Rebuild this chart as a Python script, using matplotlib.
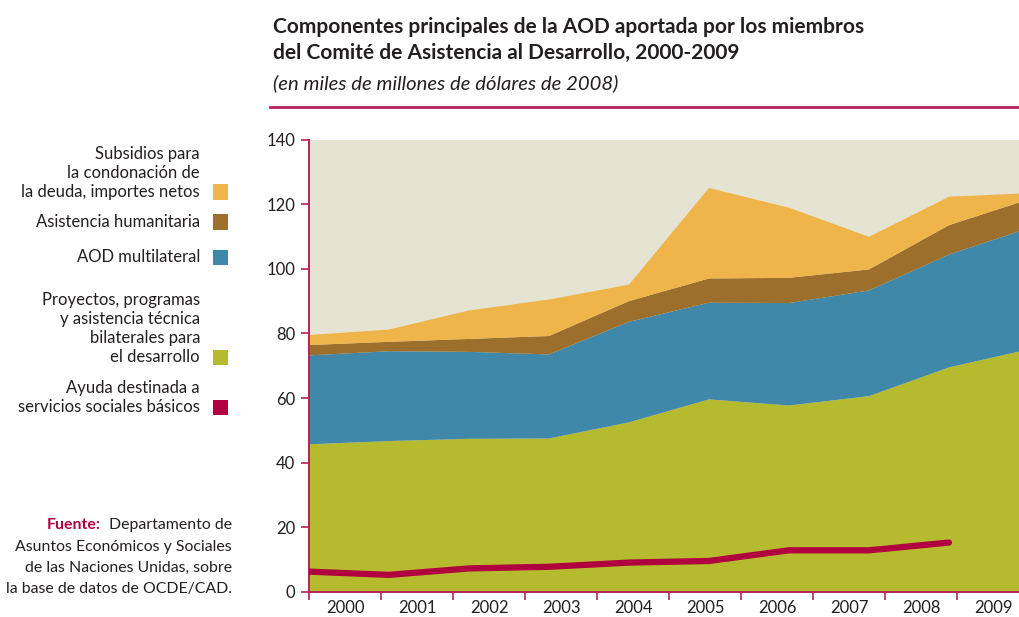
import matplotlib
matplotlib.use("Agg")
import matplotlib.pyplot as plt
import numpy as np
from matplotlib.patches import Rectangle

plt.rcParams['font.family'] = ['Lato', 'DejaVu Sans']

years = [2000, 2001, 2002, 2003, 2004, 2005, 2006, 2007, 2008, 2009]
bilateral = [45.7, 46.7, 47.4, 47.5, 52.5, 59.6, 57.7, 60.6, 69.5, 75.1]
multilateral = [27.5, 27.8, 26.9, 26.0, 31.1, 29.9, 31.7, 32.7, 34.9, 37.5]
humanitaria = [3.2, 2.9, 4.0, 5.7, 6.4, 7.5, 7.8, 6.5, 9.1, 8.9]
deuda = [3.1, 3.8, 8.8, 11.3, 5.1, 28.0, 21.7, 10.1, 8.8, 1.9]
social_years = [2000, 2001, 2002, 2003, 2004, 2005, 2006, 2007, 2008]
social = [6.3, 5.3, 7.3, 7.8, 9.1, 9.6, 12.9, 12.9, 15.3]
year_labels = [str(y) for y in years]

legend_labels = [
    "Subsidios para\nla condonación de\nla deuda, importes netos",
    "Asistencia humanitaria",
    "AOD multilateral",
    "Proyectos, programas\ny asistencia técnica\nbilaterales para\nel desarrollo",
    "Ayuda destinada a\nservicios sociales básicos",
]

c_yellow = '#EFB44A'
c_brown = '#9C702C'
c_blue = '#3F88AA'
c_green = '#B5BA2E'
c_red = '#B0003F'
c_bg = '#E5E4D3'
c_spine = '#B8205C'
c_text = '#231F20'

W, H = 1019, 617
fig = plt.figure(figsize=(W/100, H/100), dpi=100)

def fx(px):
    return px / W
def fy(py):
    return 1 - py / H

ax_l, ax_r, ax_t, ax_b = 309, 1019, 139.5, 592
ax = fig.add_axes([fx(ax_l), fy(ax_b), fx(ax_r - ax_l), (ax_b - ax_t) / H])
ax.set_facecolor(c_bg)

px_per_year = 80.0
ax.set_xlim(2000, 2000 + (ax_r - ax_l) / px_per_year)
ax.set_ylim(0, 140)

ax.stackplot(years, bilateral, multilateral, humanitaria, deuda,
             colors=[c_green, c_blue, c_brown, c_yellow], linewidth=0)
ax.plot(social_years, social, color=c_red, lw=4.5, solid_capstyle='round', zorder=5)

ax.set_yticks(np.arange(0, 141, 20))
ax.tick_params(axis='y', length=6, width=1.2, color=c_spine, labelsize=12,
               labelcolor=c_text, pad=4)
ax.set_xticks([])
for s in ['top', 'right']:
    ax.spines[s].set_visible(False)
for s in ['left', 'bottom']:
    ax.spines[s].set_color(c_spine)
    ax.spines[s].set_linewidth(1.4)

# category axis for year labels
ax2 = ax.twiny()
ax2.set_xlim(0, (ax_r - ax_l) / 72.0)
ax2.xaxis.set_ticks_position('bottom')
ax2.xaxis.set_label_position('bottom')
ax2.spines['bottom'].set_position(('axes', 0))
ax2.set_xticks(np.arange(0, 10))
ax2.set_xticklabels([])
ax2.set_xticks(np.arange(10) + 0.5, minor=True)
ax2.set_xticklabels(year_labels, minor=True)
ax2.tick_params(axis='x', which='major', length=6, width=1.2, color=c_spine, direction='out')
ax2.tick_params(axis='x', which='minor', length=0, labelsize=12, labelcolor=c_text, pad=6)
for s in ax2.spines.values():
    s.set_visible(False)

# Title
fig.text(fx(273), fy(27), "Componentes principales de la AOD aportada por los miembros",
         fontsize=15, fontweight='bold', color=c_text, va='center', ha='left')
fig.text(fx(273), fy(53), "del Comité de Asistencia al Desarrollo, 2000-2009",
         fontsize=15, fontweight='bold', color=c_text, va='center', ha='left')
fig.text(fx(273), fy(83), "(en miles de millones de dólares de 2008)",
         fontsize=14.6, fontstyle='italic', color=c_text, va='center', ha='left')
fig.add_artist(plt.Line2D([fx(270), 1.0], [fy(107), fy(107)], color=c_spine, lw=2.0))

# Legend
leg_colors = [c_yellow, c_brown, c_blue, c_green, c_red]
leg_y = [192, 222, 257, 357, 407]
for lab, col, yy in zip(legend_labels, leg_colors, leg_y):
    fig.text(fx(200), fy(yy + 5), lab, fontsize=12, color=c_text, ha='right', va='baseline',
             multialignment='right', linespacing=1.22)
    fig.add_artist(Rectangle((fx(213), fy(yy + 7.5)), 15 / W, 15 / H,
                             facecolor=col, edgecolor='none', transform=fig.transFigure))

# Source
src_lines = ["Departamento de", "Asuntos Económicos y Sociales",
             "de las Naciones Unidas, sobre", "la base de datos de OCDE/CAD."]
src_base = [529, 551, 572, 593]
first = None
for t, yb in zip(src_lines, src_base):
    tt = fig.text(fx(232), fy(yb), t, fontsize=11.4, color=c_text, ha='right', va='baseline')
    if first is None:
        first = tt
renderer = fig.canvas.get_renderer()
bb = first.get_window_extent(renderer=renderer)
fig.text((bb.x0 - 8) / W, fy(529), "Fuente:", fontsize=11.4, fontweight='bold', color=c_red,
         ha='right', va='baseline')

fig.savefig("out.png", dpi=100)
